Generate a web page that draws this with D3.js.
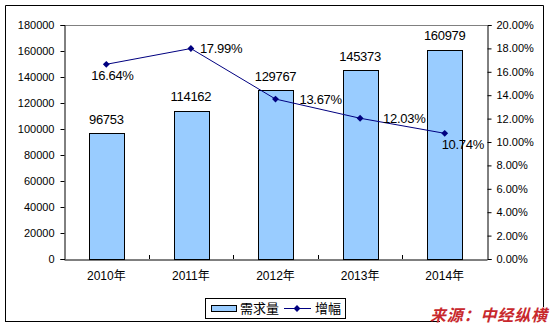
<!DOCTYPE html>
<html><head><meta charset="utf-8">
<script src="https://cdn.jsdelivr.net/npm/d3@7/dist/d3.min.js"></script>
<style>body{margin:0;background:#fff}svg{display:block}text{font-family:Arial,"Liberation Sans","Noto Sans CJK SC",sans-serif}</style>
</head><body><svg id="c" width="553" height="329"></svg>
<script>
const categories = ["2010年","2011年","2012年","2013年","2014年"];
const demand = [96753,114162,129767,145373,160979];
const growth = [16.64,17.99,13.67,12.03,10.74];
const leftTicks = [0,20000,40000,60000,80000,100000,120000,140000,160000,180000];
const rightTicks = [0,2,4,6,8,10,12,14,16,18,20];
const seriesNames = ["需求量","增幅"];
const sourceText = "来源：中经纵横";

const svg = d3.select("#c");
const L = 64, R = 487, T = 25, B = 259;
const x = d3.scaleBand().domain(categories).range([L, R]).paddingInner(0.59).paddingOuter(0.295);
const xc = d3.scaleBand().domain(categories).range([L, R]);
const yL = d3.scaleLinear().domain([0,180000]).range([B, T]);
const yR = d3.scaleLinear().domain([0,20]).range([B, T]);

// outer frame
svg.append("path").attr("d","M5.5,321.5 V5.5 H543.5 V307").attr("fill","none").attr("stroke","#000").attr("stroke-width",1);
svg.append("line").attr("x1",5).attr("x2",440).attr("y1",321.5).attr("y2",321.5).attr("stroke","#000");

// plot area top border
svg.append("line").attr("x1",L).attr("x2",R).attr("y1",T+0.5).attr("y2",T+0.5).attr("stroke","#808080");

// bars
svg.selectAll("rect.bar").data(demand).join("rect").attr("class","bar")
  .attr("x",(d,i)=>Math.round(x(categories[i]))+0.5)
  .attr("y",d=>Math.round(yL(d))+0.5)
  .attr("width",Math.round(x.bandwidth()))
  .attr("height",d=>B-Math.round(yL(d)))
  .attr("fill","#99ccff").attr("stroke","#000").attr("stroke-width",1);

// axes
const axL = d3.axisLeft(yL).tickValues(leftTicks).tickSize(4).tickFormat(d3.format("d"));
const gL = svg.append("g").attr("transform",`translate(${L+0.5},0)`).call(axL);
const axR = d3.axisRight(yR).tickValues(rightTicks).tickSize(4).tickFormat(d=>d.toFixed(2)+"%");
const gR = svg.append("g").attr("transform",`translate(${R+0.5},0)`).call(axR);
const axB = d3.axisBottom(xc).tickSize(0).tickPadding(12);
const gB = svg.append("g").attr("transform",`translate(0,${B+0.5})`).call(axB);
[gL,gR,gB].forEach(g=>{
  g.select(".domain").attr("stroke","#000");
  g.selectAll(".tick line").attr("stroke","#000");
  g.selectAll("text").attr("fill","#000").attr("font-size",11).attr("font-family","Arial,'Liberation Sans','Noto Sans CJK SC',sans-serif");
});
gL.selectAll(".tick text").attr("x",-10);
gR.selectAll(".tick text").attr("x",9);
gB.selectAll("text").attr("font-size",12);
// category divider ticks (inside)
svg.selectAll("line.ct").data(categories.slice(1)).join("line").attr("class","ct")
  .attr("x1",d=>Math.round(xc(d))+0.5).attr("x2",d=>Math.round(xc(d))+0.5)
  .attr("y1",B-4).attr("y2",B).attr("stroke","#000");

// bar labels
svg.selectAll("text.bl").data(demand).join("text").attr("class","bl")
  .attr("x",(d,i)=>xc(categories[i])+xc.bandwidth()/2)
  .attr("y",d=>yL(d)-9.5)
  .attr("text-anchor","middle").attr("font-size",13).attr("letter-spacing",-0.3).attr("fill","#000")
  .text(d=>d);

// growth line
const px = i => xc(categories[i])+xc.bandwidth()/2;
const line = d3.line().x((d,i)=>px(i)).y(d=>yR(d));
svg.append("path").datum(growth).attr("d",line).attr("fill","none").attr("stroke","#000080").attr("stroke-width",1);
svg.selectAll("path.mk").data(growth).join("path").attr("class","mk")
  .attr("d",d3.symbol(d3.symbolDiamond2,30))
  .attr("transform",(d,i)=>`translate(${px(i)},${yR(d)})`).attr("fill","#000080");

// growth labels (placement: layout only)
const lblPos = [[-15,16],[9,4.5],[24,4.5],[23,4.5],[-3,16]];
svg.selectAll("text.gl").data(growth).join("text").attr("class","gl")
  .attr("x",(d,i)=>px(i)+lblPos[i][0])
  .attr("y",(d,i)=>yR(d)+lblPos[i][1])
  .attr("font-size",13).attr("letter-spacing",-0.3).attr("fill","#000")
  .text(d=>d.toFixed(2)+"%");

// legend
const lg = svg.append("g");
lg.append("rect").attr("x",205.5).attr("y",298.5).attr("width",140).attr("height",20).attr("fill","#fff").attr("stroke","#000");
lg.append("rect").attr("x",211.5).attr("y",305.5).attr("width",25).attr("height",6).attr("fill","#99ccff").attr("stroke","#000");
lg.append("text").attr("x",240).attr("y",313).attr("font-size",13).attr("fill","#000").text(seriesNames[0]);
lg.append("line").attr("x1",284).attr("x2",311).attr("y1",308.5).attr("y2",308.5).attr("stroke","#000080");
lg.append("path").attr("d",d3.symbol(d3.symbolDiamond2,30)).attr("transform","translate(297,308.5)").attr("fill","#000080");
lg.append("text").attr("x",315).attr("y",313).attr("font-size",13).attr("fill","#000").text(seriesNames[1]);

// source
svg.append("text").attr("x",430).attr("y",321).attr("font-size",16).attr("font-weight","bold").attr("font-style","italic")
  .attr("fill","#c8282d").attr("font-family","'Noto Sans CJK SC',sans-serif").attr("textLength",117).text(sourceText);
</script></body></html>
